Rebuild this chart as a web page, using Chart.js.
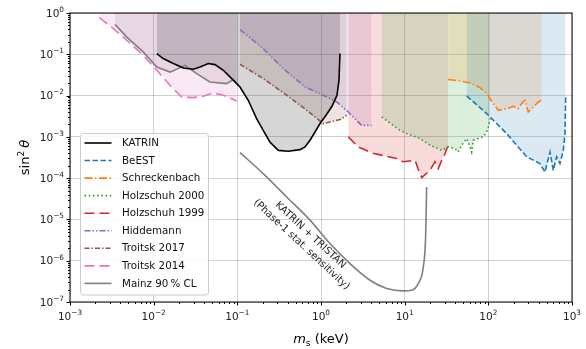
<!DOCTYPE html>
<html>
<head>
<meta charset="utf-8">
<script src="https://cdn.jsdelivr.net/npm/chart.js@4/dist/chart.umd.min.js"></script>
<style>
  html, body { margin: 0; padding: 0; background: #fff; }
  #wrap { width: 586px; height: 349px; position: relative; }
</style>
</head>
<body>
<div id="wrap"><canvas id="limits"></canvas></div>
<script>
// sterile neutrino mass (keV) and mixing sin^2 theta
const katrinMass = [0.0109, 0.013, 0.0172, 0.0226, 0.0298, 0.0358, 0.045, 0.0541, 0.068, 0.0857, 0.1076, 0.135, 0.17, 0.204, 0.245, 0.309, 0.406, 0.561, 0.644, 0.739, 0.848, 0.973, 1.148, 1.353, 1.553, 1.64, 1.686];
const katrinMix = [0.104, 0.0787, 0.0596, 0.0466, 0.0434, 0.0492, 0.0596, 0.0563, 0.041, 0.0258, 0.0161, 0.0077, 0.00277, 0.00144, 0.00075, 0.00047, 0.00045, 0.00049, 0.00057, 0.00083, 0.00131, 0.0021, 0.00333, 0.0055, 0.0102, 0.0235, 0.104];

const beestMass = [55.1, 95.5, 165.6, 287, 414, 475, 546, 597, 656, 718, 787, 824, 840];
const beestMix = [0.0098, 0.00367, 0.0012, 0.00033, 0.000226, 0.000141, 0.00043, 0.000155, 0.00033, 0.000226, 0.00047, 0.0012, 0.0092];

const schreckMass = [33.2, 45.8, 60.4, 79.4, 95.5, 114.5, 131.5, 165.6, 198.6, 228, 250, 274, 300, 330, 361, 395, 434];
const schreckMix = [0.0244, 0.0226, 0.0202, 0.0156, 0.0112, 0.0064, 0.0044, 0.0048, 0.0055, 0.0048, 0.0064, 0.0077, 0.0040, 0.0048, 0.0058, 0.0070, 0.0077];

const holz2000Mass = [5.31, 8.79, 10.6, 15.2, 20.1, 27.7, 33.2, 39.9, 43.7, 48.0, 55.1, 60.4, 63.2, 66.1, 75.9, 87.1, 95.5, 100, 104.7];
const holz2000Mix = [0.00303, 0.00144, 0.0012, 0.00091, 0.00063, 0.00047, 0.00057, 0.00052, 0.00043, 0.00063, 0.00091, 0.00057, 0.00043, 0.00083, 0.00091, 0.001, 0.00131, 0.00174, 0.00277];

const holz1999Mass = [2.12, 2.77, 4.18, 8.03, 9.55, 13.3, 14.4, 16.0, 20.1, 23.0, 25.2, 27.7, 30.3, 33.2];
const holz1999Mix = [0.001, 0.00057, 0.0004, 0.0003, 0.00025, 0.00027, 0.000174, 0.000103, 0.000155, 0.00025, 0.000171, 0.00027, 0.00039, 0.00063];

const hiddMass = [0.1076, 0.204, 0.354, 0.644, 1.065, 1.54, 2.12, 3.06, 4.03];
const hiddMix = [0.396, 0.137, 0.045, 0.0162, 0.0102, 0.0070, 0.0040, 0.0019, 0.0019];

const troitsk17Mass = [0.1076, 0.204, 0.389, 0.675, 1.065, 1.686, 2.03];
const troitsk17Mix = [0.0573, 0.0258, 0.0102, 0.0044, 0.0021, 0.00262, 0.00334];

const troitsk14Mass = [0.00224, 0.0033, 0.00477, 0.0075, 0.0109, 0.0157, 0.0216, 0.0298, 0.0392, 0.0516, 0.068, 0.098];
const troitsk14Mix = [0.77, 0.42, 0.218, 0.0946, 0.041, 0.0178, 0.0092, 0.0089, 0.0096, 0.0116, 0.0102, 0.0074];

const mainzMass = [0.00345, 0.00477, 0.0075, 0.0109, 0.0157, 0.0237, 0.0327, 0.047, 0.0746, 0.0895, 0.1026];
const mainzMix = [0.53, 0.26, 0.114, 0.049, 0.037, 0.054, 0.034, 0.0213, 0.0195, 0.0244, 0.0178];

const tristanMass = [0.1076, 0.204, 0.389, 0.739, 1.28, 2.22, 3.85, 6.1, 9.6, 12.1, 14.5, 16.7, 17.8, 18.3];
const tristanMix = [4.17e-4, 1.29e-4, 3.5e-5, 9.6e-6, 2.6e-6, 8.5e-7, 3.37e-7, 2.12e-7, 1.86e-7, 1.93e-7, 2.8e-7, 7.1e-7, 3.8e-6, 6.1e-5];

const xDecades = [-3, -2, -1, 0, 1, 2, 3];
const yDecades = [-7, -6, -5, -4, -3, -2, -1, 0];

const FONT = '"DejaVu Sans", sans-serif';

function pts(xs, ys) {
    return xs.map((v, i) => ({ x: v, y: ys[i] }));
}

function rgba(hex, a) {
    const n = parseInt(hex.slice(1), 16);
    return `rgba(${(n >> 16) & 255},${(n >> 8) & 255},${n & 255},${a})`;
}

function series(label, xs, ys, color, dash, filled) {
    return {
        label: label,
        data: pts(xs, ys),
        borderColor: color,
        backgroundColor: rgba(color, 0.16),
        borderWidth: 1.6,
        borderDash: dash,
        fill: filled ? 'end' : false,
        pointRadius: 0,
        tension: 0
    };
}

const datasets = [
    series('KATRIN', katrinMass, katrinMix, '#000000', [], true),
    series('BeEST', beestMass, beestMix, '#1f77b4', [5.5, 2.5], true),
    series('Schreckenbach', schreckMass, schreckMix, '#ff7f0e', [8, 2.5, 1.5, 2.5], true),
    series('Holzschuh 2000', holz2000Mass, holz2000Mix, '#2ca02c', [1.6, 2.6], true),
    series('Holzschuh 1999', holz1999Mass, holz1999Mix, '#d62728', [10, 5], true),
    series('Hiddemann', hiddMass, hiddMix, '#9467bd', [6, 2, 1.5, 2, 1.5, 2], true),
    series('Troitsk 2017', troitsk17Mass, troitsk17Mix, '#8c564b', [5, 2, 1.5, 2], true),
    series('Troitsk 2014', troitsk14Mass, troitsk14Mix, '#e377c2', [10, 5], true),
    series('Mainz 90\u2009% CL', mainzMass, mainzMix, '#7f7f7f', [], true)
];
const tristan = series('', tristanMass, tristanMix, '#7f7f7f', [], false);
tristan.cubicInterpolationMode = 'monotone';
tristan.inLegend = false;
datasets.push(tristan);

function sup(ctx, base, exp, x, y, align, size) {
    ctx.font = size + 'px ' + FONT;
    const wb = ctx.measureText(base).width;
    ctx.font = (size * 0.7) + 'px ' + FONT;
    const we = ctx.measureText(exp).width;
    let x0 = align === 'center' ? x - (wb + we) / 2 : x - wb - we;
    ctx.textBaseline = 'middle';
    ctx.textAlign = 'left';
    ctx.font = size + 'px ' + FONT;
    ctx.fillText(base, x0, y);
    ctx.font = (size * 0.7) + 'px ' + FONT;
    ctx.fillText(exp, x0 + wb, y - size * 0.38);
}

const decor = {
    id: 'decor',
    afterDraw(chart) {
        const { ctx, chartArea: a, scales: { x, y } } = chart;
        ctx.save();
        ctx.fillStyle = '#000';
        ctx.strokeStyle = '#000';

        // frame
        ctx.lineWidth = 1;
        ctx.strokeRect(a.left, a.top, a.right - a.left, a.bottom - a.top);

        // ticks, major + minor
        ctx.beginPath();
        xDecades.forEach(d => {
            for (let k = 1; k <= 9; k++) {
                const v = k * Math.pow(10, d);
                if (v > 1000.0001) break;
                const px = Math.round(x.getPixelForValue(v)) + 0.5;
                const len = k === 1 ? 3.5 : 2;
                ctx.moveTo(px, a.bottom);
                ctx.lineTo(px, a.bottom + len);
            }
        });
        yDecades.forEach(d => {
            for (let k = 1; k <= 9; k++) {
                const v = k * Math.pow(10, d);
                if (v > 1.0001) break;
                const py = Math.round(y.getPixelForValue(v)) + 0.5;
                const len = k === 1 ? 3.5 : 2;
                ctx.moveTo(a.left, py);
                ctx.lineTo(a.left - len, py);
            }
        });
        ctx.stroke();

        // tick labels
        ctx.fillStyle = '#222';
        xDecades.forEach(d => {
            const exp = d < 0 ? '\u2212' + (-d) : String(d);
            sup(ctx, '10', exp, x.getPixelForValue(Math.pow(10, d)), a.bottom + 15, 'center', 10.5);
        });
        yDecades.forEach(d => {
            const exp = d < 0 ? '\u2212' + (-d) : String(d);
            sup(ctx, '10', exp, a.left - 6, y.getPixelForValue(Math.pow(10, d)) + 1, 'right', 10.5);
        });

        // x title: m_s (keV)
        ctx.fillStyle = '#000';
        ctx.textBaseline = 'alphabetic';
        ctx.textAlign = 'left';
        const fs = 13;
        ctx.font = 'italic ' + fs + 'px ' + FONT;
        const wm = ctx.measureText('m').width;
        ctx.font = (fs * 0.7) + 'px ' + FONT;
        const ws = ctx.measureText('s').width;
        ctx.font = fs + 'px ' + FONT;
        const wk = ctx.measureText(' (keV)').width;
        let tx = (a.left + a.right) / 2 - (wm + ws + wk) / 2;
        const ty = 343;
        ctx.font = 'italic ' + fs + 'px ' + FONT;
        ctx.fillText('m', tx, ty);
        ctx.font = (fs * 0.7) + 'px ' + FONT;
        ctx.fillText('s', tx + wm, ty + 2.5);
        ctx.font = fs + 'px ' + FONT;
        ctx.fillText(' (keV)', tx + wm + ws, ty);

        // y title: sin^2 theta
        ctx.save();
        ctx.translate(29, (a.top + a.bottom) / 2);
        ctx.rotate(-Math.PI / 2);
        ctx.font = fs + 'px ' + FONT;
        const wsin = ctx.measureText('sin').width;
        ctx.font = (fs * 0.7) + 'px ' + FONT;
        const w2 = ctx.measureText('2').width;
        ctx.font = 'italic ' + fs + 'px ' + FONT;
        const wth = ctx.measureText('\u03b8').width;
        const gap = 3;
        let sx = -(wsin + w2 + gap + wth) / 2;
        ctx.font = fs + 'px ' + FONT;
        ctx.fillText('sin', sx, 0);
        ctx.font = (fs * 0.7) + 'px ' + FONT;
        ctx.fillText('2', sx + wsin, -5.5);
        ctx.font = 'italic ' + fs + 'px ' + FONT;
        ctx.fillText('\u03b8', sx + wsin + w2 + gap, 0);
        ctx.restore();

        // annotation along the TRISTAN curve
        ctx.save();
        ctx.translate(x.getPixelForValue(0.66), y.getPixelForValue(3.2e-6));
        ctx.rotate(43 * Math.PI / 180);
        ctx.font = '10px ' + FONT;
        ctx.textAlign = 'center';
        ctx.textBaseline = 'middle';
        ctx.fillStyle = '#222';
        ctx.fillText('KATRIN + TRISTAN', 0, -6.5);
        ctx.fillText('(Phase-1 stat. sensitivity)', 0, 6.5);
        ctx.restore();

        // legend
        const lx = 80.5, ly = 133.5, lw = 128, lh = 161.5;
        ctx.beginPath();
        ctx.roundRect(lx, ly, lw, lh, 3);
        ctx.fillStyle = 'rgba(255,255,255,0.85)';
        ctx.fill();
        ctx.strokeStyle = '#cccccc';
        ctx.lineWidth = 1;
        ctx.stroke();
        ctx.font = '10.3px ' + FONT;
        ctx.textAlign = 'left';
        ctx.textBaseline = 'middle';
        let row = 0;
        chart.data.datasets.forEach(ds => {
            if (ds.inLegend === false) return;
            const ry = 143 + row * 17.55;
            ctx.beginPath();
            ctx.setLineDash(ds.borderDash);
            ctx.strokeStyle = ds.borderColor;
            ctx.lineWidth = ds.borderWidth;
            ctx.moveTo(84.5, ry);
            ctx.lineTo(111.5, ry);
            ctx.stroke();
            ctx.setLineDash([]);
            ctx.fillStyle = '#111';
            ctx.fillText(ds.label, 122, ry + 0.5);
            row++;
        });
        ctx.restore();
    }
};

new Chart(document.getElementById('limits'), {
    type: 'line',
    data: { datasets: datasets },
    options: {
        responsive: true,
        maintainAspectRatio: false,
        animation: false,
        layout: { padding: { left: 70, right: 14, top: 13, bottom: 47 } },
        scales: {
            x: {
                type: 'logarithmic',
                min: 1e-3,
                max: 1e3,
                afterBuildTicks: s => { s.ticks = xDecades.map(d => ({ value: Math.pow(10, d) })); },
                ticks: { display: false },
                grid: { color: 'rgba(0,0,0,0.18)', lineWidth: 1, drawTicks: false },
                border: { display: false }
            },
            y: {
                type: 'logarithmic',
                min: 1e-7,
                max: 1,
                afterBuildTicks: s => { s.ticks = yDecades.map(d => ({ value: Math.pow(10, d) })); },
                ticks: { display: false },
                grid: { color: 'rgba(0,0,0,0.18)', lineWidth: 1, drawTicks: false },
                border: { display: false }
            }
        },
        plugins: {
            legend: { display: false },
            tooltip: { enabled: false },
            filler: { drawTime: 'beforeDatasetsDraw' }
        }
    },
    plugins: [decor]
});
</script>
</body>
</html>
